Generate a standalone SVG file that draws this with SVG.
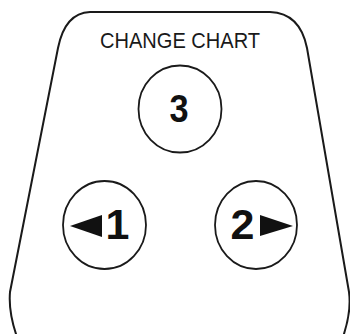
<svg xmlns="http://www.w3.org/2000/svg" width="350" height="334" viewBox="0 0 350 334">
<style>
.outline{fill:none;stroke:#1a1a1a;stroke-width:2}
.btn{fill:#fff;stroke:#1a1a1a;stroke-width:1.8}
.lbl{font-family:"Liberation Sans",Arial,sans-serif;fill:#1a1a1a}
.num{font-family:"Liberation Sans",Arial,sans-serif;font-weight:bold;fill:#111}
.tri{fill:#111}
</style>
<rect width="350" height="334" fill="#fff"/>
<g id="body">
<path class="outline" d="M90,12 H270 Q300,13 307,48 L349,292 Q352,315 340,345 L20,345 Q8,315 10,292 L58,48 Q65,13 90,12 Z"/>
<text class="lbl" x="180" y="48" font-size="22" text-anchor="middle" textLength="160" lengthAdjust="spacingAndGlyphs">CHANGE CHART</text>
</g>
<g id="connectors"></g>
<g id="btn3">
<ellipse class="btn" cx="180" cy="109" rx="41.5" ry="43.5"/>
<text class="num" x="179" y="122" font-size="39" text-anchor="middle" transform="translate(179 0) scale(0.88 1) translate(-179 0)">3</text>
</g>
<g id="btn1">
<ellipse class="btn" cx="104.5" cy="225" rx="41.5" ry="44"/>
<polygon class="tri" points="70,226 102,215 102,237"/>
<text class="num" x="117.5" y="239" font-size="43" text-anchor="middle">1</text>
</g>
<g id="btn2">
<ellipse class="btn" cx="256" cy="225" rx="41" ry="44"/>
<text class="num" x="242.5" y="239" font-size="43" text-anchor="middle">2</text>
<polygon class="tri" points="260,215 293,226 260,236"/>
</g>
</svg>
